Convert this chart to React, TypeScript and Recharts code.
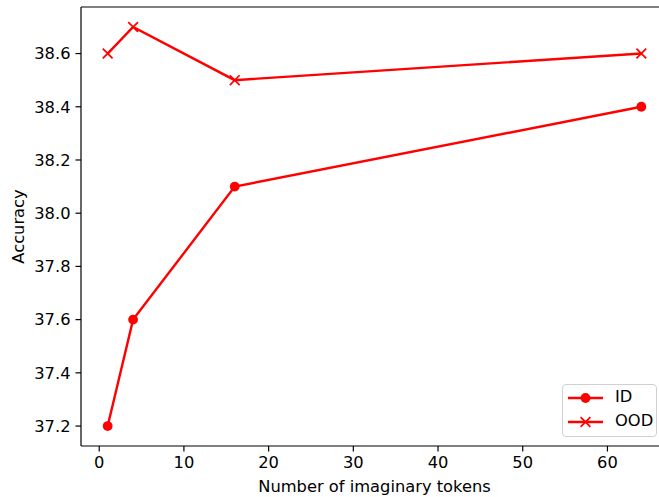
import React from "react";
import { LineChart, Line, XAxis, YAxis, ReferenceLine } from "recharts";

const tokens = [1, 4, 16, 64];
const idAcc = [37.2, 37.6, 38.1, 38.4];
const oodAcc = [38.6, 38.7, 38.5, 38.6];
const xTicks = [0, 10, 20, 30, 40, 50, 60];
const yTicks = [37.2, 37.4, 37.6, 37.8, 38.0, 38.2, 38.4, 38.6];
const seriesNames = ["ID", "OOD"];

const data = tokens.map((t, i) => ({ t, id: idAcc[i], ood: oodAcc[i] }));

const RED = "#ff0000";
const FONT = "DejaVu Sans, sans-serif";
const FS = 16.3;
const LW = 2.4;

const XDot = (props: any) => {
  const { cx, cy, index } = props;
  if (cx == null || cy == null) return <g key={`x${index}`} />;
  const s = 4.9;
  return (
    <path
      key={`x${index}`}
      d={`M${cx - s},${cy - s}L${cx + s},${cy + s}M${cx - s},${cy + s}L${cx + s},${cy - s}`}
      stroke={RED}
      strokeWidth={1.7}
      fill="none"
    />
  );
};

const LegendBox = () => (
  <div
    style={{
      position: "absolute",
      left: 562,
      top: 384,
      width: 95,
      height: 53,
      border: "1px solid #d0d0d0",
      borderRadius: 4,
      background: "rgba(255,255,255,0.8)",
      boxSizing: "border-box",
      fontFamily: FONT,
      fontSize: FS,
      color: "#000",
    }}
  >
    <svg width={44} height={52} style={{ position: "absolute", left: 0, top: 0 }}>
      <line x1={5} x2={40} y1={13} y2={13} stroke={RED} strokeWidth={LW} />
      <circle cx={22.5} cy={13} r={4.9} fill={RED} />
      <line x1={5} x2={40} y1={37} y2={37} stroke={RED} strokeWidth={LW} />
      <path d="M17.6,32.1L27.4,41.9M17.6,41.9L27.4,32.1" stroke={RED} strokeWidth={1.7} />
    </svg>
    <div style={{ position: "absolute", left: 52, top: 2, lineHeight: "20px" }}>{seriesNames[0]}</div>
    <div style={{ position: "absolute", left: 52, top: 26, lineHeight: "20px" }}>{seriesNames[1]}</div>
  </div>
);

export default function App() {
  return (
    <div
      style={{
        position: "absolute",
        left: 0,
        top: 0,
        width: 659,
        height: 497,
        overflow: "hidden",
        background: "#fff",
      }}
    >
      <LineChart
        width={690}
        height={497}
        data={data}
        margin={{ top: 7, right: 22, bottom: 0, left: 0 }}
      >
        <XAxis
          dataKey="t"
          type="number"
          domain={[-2.15, 67.15]}
          ticks={xTicks}
          allowDataOverflow
          height={51}
          stroke="#000"
          strokeWidth={1.2}
          tickSize={5.5}
          tickMargin={5}
          tick={{ fill: "#000", fontSize: FS, fontFamily: FONT }}
          label={{
            value: "Number of imaginary tokens",
            position: "insideBottom",
            offset: 5,
            fill: "#000",
            fontSize: FS,
            fontFamily: FONT,
          }}
        />
        <YAxis
          type="number"
          domain={[37.125, 38.775]}
          ticks={yTicks}
          allowDataOverflow
          width={81}
          stroke="#000"
          strokeWidth={1.2}
          tickSize={5.5}
          tickMargin={5}
          tickFormatter={(v: number) => v.toFixed(1)}
          tick={{ fill: "#000", fontSize: FS, fontFamily: FONT }}
          label={{
            value: "Accuracy",
            angle: -90,
            position: "insideLeft",
            offset: 18,
            style: { textAnchor: "middle" },
            fill: "#000",
            fontSize: FS,
            fontFamily: FONT,
          }}
        />
        <ReferenceLine y={38.775} stroke="#000" strokeWidth={1.2} ifOverflow="visible" />
        <ReferenceLine x={67.15} stroke="#000" strokeWidth={1.2} ifOverflow="visible" />
        <Line
          dataKey="id"
          name={seriesNames[0]}
          stroke={RED}
          strokeWidth={LW}
          isAnimationActive={false}
          dot={{ r: 4.9, fill: RED, stroke: RED, strokeWidth: 0 }}
          activeDot={false}
        />
        <Line
          dataKey="ood"
          name={seriesNames[1]}
          stroke={RED}
          strokeWidth={LW}
          isAnimationActive={false}
          dot={XDot}
          activeDot={false}
        />
      </LineChart>
      <LegendBox />
    </div>
  );
}
